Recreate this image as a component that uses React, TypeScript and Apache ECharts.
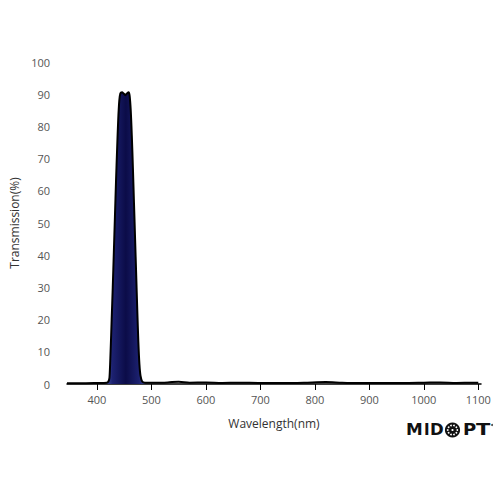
import React, { useEffect, useRef } from "react";
import * as echarts from "echarts";

const wavelengthsPeak = [418, 421, 423, 425, 427, 429, 431, 433, 435, 437, 439, 441, 443, 446, 449, 452, 455, 458, 460, 462, 464, 466, 468, 470, 472, 474, 476, 478, 480, 483, 488];
const transmissionPeak = [0.4, 0.8, 2, 10, 20, 30, 41, 52, 63, 73, 82, 88, 90.3, 90.6, 90.2, 89.7, 90.2, 90.6, 89.5, 85, 77, 67, 56, 45, 34, 23, 13, 6, 2.5, 0.8, 0.4];

const wavelengthsBase = [345, 370, 400, 418, 488, 510, 530, 550, 570, 600, 630, 660, 700, 740, 780, 820, 850, 880, 920, 960, 1000, 1030, 1060, 1090, 1100];
const transmissionBase = [0.2, 0.2, 0.3, 0.4, 0.4, 0.4, 0.5, 0.7, 0.4, 0.5, 0.3, 0.4, 0.3, 0.3, 0.4, 0.6, 0.4, 0.3, 0.3, 0.3, 0.4, 0.5, 0.3, 0.4, 0.4];

const xTicks = [400, 500, 600, 700, 800, 900, 1000, 1100];

export default function App() {
  const ref = useRef<HTMLDivElement>(null);
  useEffect(() => {
    if (!ref.current) return;
    const chart = echarts.init(ref.current, null, { renderer: "svg" });
    const peak = wavelengthsPeak.map((w, i) => [w, transmissionPeak[i]]);
    const base = wavelengthsBase.map((w, i) => [w, transmissionBase[i]]);
    const full = [
      ...base.filter((d) => d[0] < 418),
      ...peak,
      ...base.filter((d) => d[0] > 488),
    ];
    const font = "'Open Sans', sans-serif";
    const logoFont = "bold 15px 'DejaVu Sans', sans-serif";
    const bx = 452.5;
    const by = 430;
    const dots: any[] = [];
    for (let k = 0; k < 10; k++) {
      const a = (k / 10) * Math.PI * 2;
      dots.push({
        type: "circle",
        shape: { cx: bx + Math.cos(a) * 4.8, cy: by + Math.sin(a) * 4.8, r: 0.9 },
        style: { fill: "#fff" },
        z: 101,
      });
    }
    dots.push({ type: "circle", shape: { cx: bx, cy: by, r: 1.1 }, style: { fill: "#fff" }, z: 101 });
    const letters: [string, number, number][] = [["M", 406, 1.12], ["I", 424, 1], ["D", 430, 1.1], ["P", 463, 1.2], ["T", 476, 1.4]];
    chart.setOption({
      animation: false,
      grid: { left: 67, right: 19, top: 62, bottom: 116 },
      xAxis: {
        type: "value",
        min: 345,
        max: 1105,
        name: "Wavelength(nm)",
        nameLocation: "middle",
        nameGap: 33,
        nameTextStyle: { color: "#333", fontSize: 12, fontFamily: font },
        axisLine: { show: true, onZero: false, lineStyle: { color: "#000", width: 1.5 } },
        axisTick: { show: true, length: 6, lineStyle: { color: "#000", width: 1 }, customValues: xTicks },
        axisLabel: { color: "#555", fontSize: 11, fontFamily: font, margin: 10, customValues: xTicks, formatter: (v: number) => String(v) },
        splitLine: { show: false },
      },
      yAxis: {
        type: "value",
        min: 0,
        max: 100,
        interval: 10,
        name: "Transmission(%)",
        nameLocation: "middle",
        nameGap: 45,
        nameTextStyle: { color: "#333", fontSize: 12, fontFamily: font },
        axisLine: { show: false },
        axisTick: { show: false },
        axisLabel: { color: "#555", fontSize: 11, fontFamily: font, margin: 17 },
        splitLine: { show: false },
      },
      series: [
        {
          type: "line",
          data: peak,
          showSymbol: false,
          smooth: 0.3,
          lineStyle: { width: 0 },
          areaStyle: {
            opacity: 1,
            color: new echarts.graphic.LinearGradient(0, 0, 1, 0, [
              { offset: 0, color: "#3a4595" },
              { offset: 0.15, color: "#1c2170" },
              { offset: 0.5, color: "#0b0c48" },
              { offset: 0.85, color: "#1c2170" },
              { offset: 1, color: "#3a4595" },
            ]),
          },
          z: 2,
        },
        {
          type: "line",
          data: full,
          showSymbol: false,
          smooth: 0.3,
          lineStyle: { color: "#000", width: 2 },
          z: 3,
        },
      ],
      graphic: [
        ...letters.map(([t, x, s]) => ({ type: "text", x, y: 422.5, scaleX: s, style: { text: t, font: logoFont, fill: "#111" }, z: 100 })),
        { type: "circle", shape: { cx: bx, cy: by, r: 7.6 }, style: { fill: "#111" }, z: 100 },
        ...dots,
        { type: "circle", shape: { cx: 492, cy: 425, r: 1 }, style: { fill: "#444" }, z: 100 },
      ],
    });
    return () => chart.dispose();
  }, []);
  return <div ref={ref} style={{ width: 500, height: 500, position: "absolute", left: 0, top: 0 }} />;
}
